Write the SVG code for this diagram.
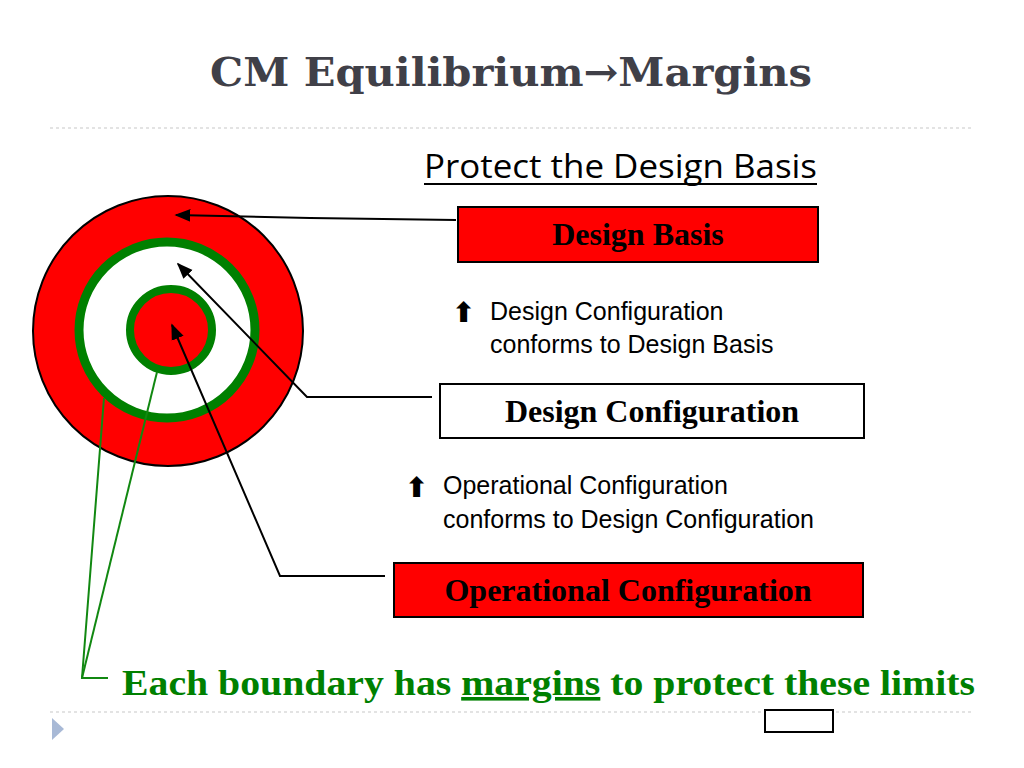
<svg xmlns="http://www.w3.org/2000/svg" width="1024" height="768" viewBox="0 0 1024 768">
<defs>
<marker id="ah" viewBox="0 0 10 10" refX="9" refY="5" markerWidth="8" markerHeight="8" orient="auto-start-reverse"><path d="M0,1 L10,5 L0,9 Z" fill="#000"/></marker>
<style>
.box{stroke:#000;stroke-width:2}
.bt{font-family:"Liberation Serif",serif;font-weight:bold;font-size:32px;text-anchor:middle}
.sm{font-family:"Liberation Sans",Arial,sans-serif;font-size:25px}
.up{font-family:"DejaVu Sans",sans-serif;font-size:28px;font-weight:bold}
.dash{stroke:#c8c8c8;stroke-width:1.2;stroke-dasharray:3,3}
.ln{fill:none;stroke:#000;stroke-width:2}
.gl{fill:none;stroke:#118811;stroke-width:2}
</style>
</defs>
<rect width="1024" height="768" fill="#fff"/>
<text x="210" y="86" font-family="DejaVu Serif,serif" font-weight="bold" font-size="40" fill="#404048" textLength="602" lengthAdjust="spacingAndGlyphs">CM Equilibrium→Margins</text>
<line class="dash" x1="50" y1="128" x2="972" y2="128"/>
<line class="dash" x1="50" y1="712" x2="972" y2="712"/>
<path d="M52,718 L64,729 L52,740 Z" fill="#a8b9d6"/>
<text x="424" y="178" font-family="Open Sans,sans-serif" font-size="32" textLength="393" lengthAdjust="spacingAndGlyphs">Protect the Design Basis</text>
<line x1="424" y1="184" x2="817" y2="184" stroke="#000" stroke-width="2"/>
<g id="target">
<circle cx="168" cy="331" r="135" fill="#ff0000" stroke="#000" stroke-width="2"/>
<circle cx="167" cy="330" r="88" fill="#fff" stroke="#008000" stroke-width="9"/>
<circle cx="171" cy="330" r="41" fill="#ff0000" stroke="#008000" stroke-width="8"/>
</g>
<g id="designBasis"><rect class="box" x="458" y="207" width="360" height="55" fill="#ff0000"/><text class="bt" x="638" y="245">Design Basis</text></g>
<g id="designConfig"><rect class="box" x="440" y="384" width="424" height="54" fill="#fff"/><text class="bt" x="652" y="422">Design Configuration</text></g>
<g id="opConfig"><rect class="box" x="394" y="563" width="469" height="54" fill="#ff0000"/><text class="bt" x="628" y="601">Operational Configuration</text></g>
<g id="note1"><text class="up" x="452" y="322">⬆</text><text class="sm" x="490" y="320">Design Configuration</text><text class="sm" x="490" y="353">conforms to Design Basis</text></g>
<g id="note2"><text class="up" x="405" y="497">⬆</text><text class="sm" x="443" y="494">Operational Configuration</text><text class="sm" x="443" y="528">conforms to Design Configuration</text></g>
<g id="connectors">
<path class="ln" d="M456,220 L310,218 L176,215" marker-end="url(#ah)"/>
<path class="ln" d="M432,397 L307,397 L178,264" marker-end="url(#ah)"/>
<path class="ln" d="M385,576 L280,576 L172,325" marker-end="url(#ah)"/>
<path class="gl" d="M104,398 L82,678 L108,678"/>
<path class="gl" d="M157,372 L82,678"/>
</g>
<text x="122" y="695" font-family="Liberation Serif,serif" font-weight="bold" font-size="36" fill="#008000" textLength="853" lengthAdjust="spacingAndGlyphs">Each boundary has <tspan text-decoration="underline">margins</tspan> to protect these limits</text>
<rect x="765" y="710" width="68" height="22" fill="#fff" stroke="#000" stroke-width="2"/>
</svg>
